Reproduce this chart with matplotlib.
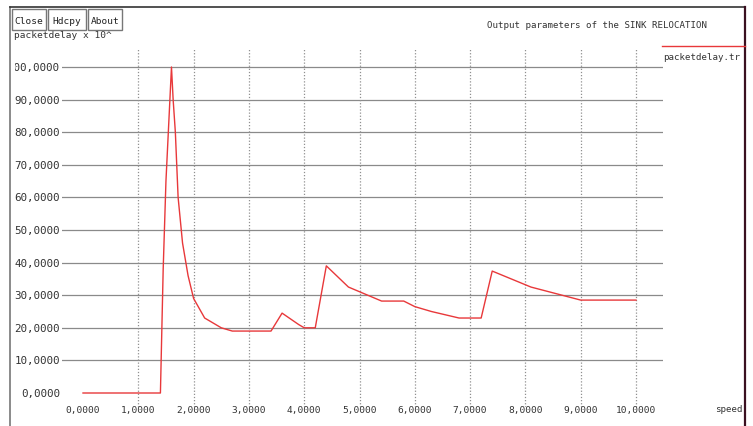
import matplotlib
matplotlib.use("Agg")
import matplotlib.pyplot as plt
from matplotlib.lines import Line2D
from matplotlib.patches import Rectangle

# packet delay vs speed
speed = [0.0, 1.4, 1.45, 1.5, 1.6, 1.63, 1.67, 1.72, 1.8, 1.9, 2.0, 2.2, 2.5, 2.7,
         3.0, 3.4, 3.6, 3.9, 4.0, 4.2, 4.4, 4.8, 5.4, 5.8, 6.0, 6.3, 6.8, 7.2,
         7.4, 8.1, 9.0, 10.0]
delay = [0.0, 0.0, 38.0, 65.0, 100.0, 90.0, 80.0, 60.0, 46.0, 36.0, 29.0, 23.0, 20.0, 19.0,
         19.0, 19.0, 24.5, 21.0, 20.0, 20.0, 39.0, 32.5, 28.2, 28.2, 26.5, 25.0, 23.0, 23.0,
         37.4, 32.5, 28.5, 28.5]
xticks = [0, 1, 2, 3, 4, 5, 6, 7, 8, 9, 10]
yticks = [0, 10, 20, 30, 40, 50, 60, 70, 80, 90, 100]

W, H = 753, 427
mono = "DejaVu Sans Mono"

fig = plt.figure(figsize=(W / 100, H / 100), dpi=100)
fig.patch.set_facecolor("white")

def fx(px):
    return px / W

def fy(py):
    return 1 - py / H

# plot area: x=0 at px 83, 10 at px 636; y=0 at py 394, 100 at py 68
ax = fig.add_axes([fx(62), fy(408), fx(663) - fx(62), fy(49) - fy(408)])
ax.set_xlim((62 - 83) / 55.3, (663 - 83) / 55.3)
ax.set_ylim((394 - 408) / 3.26, (394 - 49) / 3.26)
ax.axis("off")

# clip region for labels: the window edge hides the leading "1" of 100
clip = Rectangle((fx(14.5), 0), 1, 1, transform=fig.transFigure, visible=False)
fig.add_artist(clip)

for v in yticks:
    if v != 0:
        ax.axhline(v, color="#8a8a8a", lw=0.9, zorder=1)
    t = ax.text(-0.42, v, f"{v},0000", ha="right", va="center", fontsize=7.8,
                family=mono, color="#333333")
    t.set_clip_box(None)
    t.set_clip_path(clip)
    t.set_clip_on(True)
for v in xticks:
    if v != 0:
        ax.axvline(v, color="#909090", lw=0.9, ls=(0, (1, 1.5)), zorder=1)
    ax.text(v, (394 - 411) / 3.26, f"{v},0000", ha="center", va="center",
            fontsize=6.8, family=mono, color="#333333", clip_on=False)

ax.plot(speed, delay, color="#e8383a", lw=1.0, zorder=3)

# window frame
fig.add_artist(Line2D([fx(10), fx(10)], [fy(8), 0], color="#777777", lw=1.2))
fig.add_artist(Line2D([fx(10), fx(745)], [fy(8), fy(8)], color="#333333", lw=1.2))
fig.add_artist(Line2D([fx(745), fx(745)], [fy(8), 0], color="#3a1020", lw=1.6))

# axis unit label (partly hidden behind the buttons)
fig.text(fx(14), fy(36), "packetdelay x 10^", fontsize=6.8, family=mono,
         color="#333333", va="center", ha="left", zorder=1)

# buttons
for x0, x1, lab in [(12, 46, "Close"), (48, 86, "Hdcpy"), (88, 122, "About")]:
    fig.add_artist(Rectangle((fx(x0), fy(31)), fx(x1) - fx(x0), fy(10) - fy(31),
                             facecolor="white", edgecolor="#777777", lw=1.0, zorder=5))
    fig.text(fx((x0 + x1) / 2), fy(21), lab, fontsize=6.8, family=mono,
             color="#222222", ha="center", va="center", zorder=6)

# title
fig.text(fx(597), fy(26), "Output parameters of the SINK RELOCATION", fontsize=6.6,
         family=mono, color="#333333", ha="center", va="center")

# legend
fig.add_artist(Line2D([fx(662), fx(745)], [fy(47), fy(47)], color="#e8383a", lw=1.0))
fig.text(fx(663), fy(57), "packetdelay.tr", fontsize=6.6, family=mono,
         color="#333333", ha="left", va="center")

# x axis unit
fig.text(fx(743), fy(410), "speed", fontsize=6.6, family=mono,
         color="#333333", ha="right", va="center")

fig.savefig("out.png", dpi=100)
